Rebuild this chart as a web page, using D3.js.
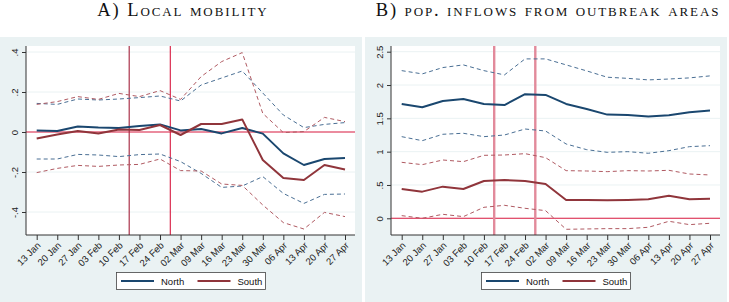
<!DOCTYPE html>
<html>
<head>
<meta charset="utf-8">
<script src="https://cdn.jsdelivr.net/npm/d3@7"></script>
<style>
  body { margin: 0; background: #fff; }
  svg { display: block; }
  .ttl { font-family: "Liberation Serif", "DejaVu Serif", serif; font-variant: small-caps; font-size: 18.5px; letter-spacing: 1.9px; fill: #111; }
  .tick text { font-family: "Liberation Sans", Arial, sans-serif; font-size: 9.5px; fill: #222; }
  .lg { font-family: "Liberation Sans", Arial, sans-serif; font-size: 9.5px; fill: #111; }
</style>
</head>
<body>
<svg id="chart" width="729" height="302"></svg>
<script>

// week labels shared by both panels
var weeks = ['13 Jan','20 Jan','27 Jan','03 Feb','10 Feb','17 Feb','24 Feb','02 Mar',
             '09 Mar','16 Mar','23 Mar','30 Mar','06 Apr','13 Apr','20 Apr','27 Apr'];

// A) local mobility
var mobNorth   = [0.007,0.005,0.027,0.022,0.02,0.03,0.038,0.008,0.015,-0.007,0.02,-0.008,-0.107,-0.165,-0.135,-0.13];
var mobNorthHi = [0.143,0.138,0.165,0.16,0.165,0.172,0.18,0.155,0.235,0.27,0.305,0.195,0.085,0.022,0.038,0.047];
var mobNorthLo = [-0.135,-0.135,-0.112,-0.115,-0.123,-0.113,-0.11,-0.148,-0.207,-0.277,-0.27,-0.223,-0.307,-0.357,-0.312,-0.31];
var mobSouth   = [-0.032,-0.013,0.005,-0.007,0.013,0.01,0.035,-0.015,0.04,0.04,0.063,-0.14,-0.23,-0.24,-0.165,-0.187];
var mobSouthHi = [0.138,0.152,0.177,0.163,0.193,0.177,0.207,0.163,0.277,0.352,0.397,0.093,-0.003,0.002,0.073,0.052];
var mobSouthLo = [-0.203,-0.182,-0.167,-0.172,-0.165,-0.162,-0.135,-0.193,-0.195,-0.26,-0.267,-0.365,-0.453,-0.485,-0.402,-0.423];
var mobTicks = [-0.4,-0.2,0,0.2,0.4];
var mobTickLabels = ['-.4','-.2','0','.2','.4'];

// B) pop. inflows from outbreak areas
var infNorth   = [1.716,1.666,1.761,1.791,1.716,1.70,1.862,1.851,1.716,1.641,1.556,1.551,1.526,1.546,1.591,1.616];
var infNorthHi = [2.216,2.167,2.262,2.302,2.216,2.152,2.392,2.392,2.302,2.212,2.117,2.10,2.077,2.09,2.107,2.137];
var infNorthLo = [1.225,1.165,1.261,1.276,1.225,1.25,1.34,1.31,1.115,1.03,0.99,1.0,0.976,1.015,1.075,1.09];
var infSouth   = [0.44,0.40,0.475,0.44,0.56,0.575,0.56,0.515,0.275,0.275,0.27,0.275,0.285,0.34,0.285,0.295];
var infSouthHi = [0.84,0.805,0.875,0.85,0.945,0.95,0.97,0.91,0.715,0.71,0.70,0.715,0.71,0.72,0.665,0.65];
var infSouthLo = [0.04,0.0,0.06,0.025,0.165,0.195,0.15,0.115,-0.165,-0.16,-0.155,-0.155,-0.135,-0.045,-0.095,-0.075];
var infTicks = [0,0.5,1,1.5,2,2.5];
var infTickLabels = ['0','.5','1','1.5','2','2.5'];

// event markers sit half-way between weeks (index units)
var events = [4.5, 6.5];

var navy = '#1a476f', maroon = '#90353b', bg = '#eaf2f3';
var svg = d3.select('#chart');

function panel(ox, title, tks, tkLabels, yDom, yRange, north, nHi, nLo, south, sHi, sLo, evColors, evWidth){

  var g = svg.append('g').attr('transform', 'translate(' + ox + ',0)');

  g.append('rect').attr('x', 0).attr('y', 37).attr('width', 362).attr('height', 265).attr('fill', bg);
  g.append('rect').attr('x', 26).attr('y', 46).attr('width', 329).attr('height', 189).attr('fill', '#fff');

  g.append('text').attr('class', 'ttl').attr('x', 183).attr('y', 15.5)
    .attr('text-anchor', 'middle').text(title);

  var x = d3.scalePoint().domain(weeks).range([36.7, 345]);
  var xi = d3.scaleLinear().domain([0, weeks.length - 1]).range([36.7, 345]);
  var y = d3.scaleLinear().domain(yDom).range(yRange);

  // grid
  g.selectAll('line.grid').data(tks.filter(function(t){ return t != 0; }))
    .join('line').attr('class', 'grid')
    .attr('x1', 26).attr('x2', 355)
    .attr('y1', function(d){ return y(d); }).attr('y2', function(d){ return y(d); })
    .attr('stroke', bg).attr('stroke-width', 1);

  // zero line
  g.append('line').attr('x1', 26).attr('x2', 355).attr('y1', y(0)).attr('y2', y(0))
    .attr('stroke', '#d7193f').attr('stroke-width', 1.1);

  // event lines
  g.selectAll('line.ev').data(events).join('line').attr('class', 'ev')
    .attr('x1', function(d){ return xi(d); }).attr('x2', function(d){ return xi(d); })
    .attr('y1', 46).attr('y2', 235)
    .attr('stroke', function(d, i){ return evColors[i]; }).attr('stroke-width', evWidth);

  var line = d3.line().x(function(d, i){ return x(weeks[i]); }).y(function(d){ return y(d); });

  function path(data, color, w, dash){
    g.append('path').datum(data).attr('d', line).attr('fill', 'none')
      .attr('stroke', color).attr('stroke-width', w)
      .attr('stroke-dasharray', dash ? '4,3' : null)
      .attr('stroke-linejoin', 'round');
  }
  path(nHi, '#4a6f94', 1, true);
  path(nLo, '#4a6f94', 1, true);
  path(sHi, '#b05a62', 1, true);
  path(sLo, '#b05a62', 1, true);
  path(north, navy, 2);
  path(south, maroon, 2);

  // axes
  var yAx = g.append('g').attr('transform', 'translate(26,0)')
    .call(d3.axisLeft(y).tickValues(tks).tickSize(4)
      .tickFormat(function(d, i){ return tkLabels[i]; }));
  yAx.select('.domain').attr('d', 'M0,46V235').attr('stroke', '#333');
  yAx.selectAll('.tick line').attr('stroke', '#333');
  yAx.selectAll('.tick text')
    .attr('text-anchor', 'middle').attr('dy', 0).attr('x', 0).attr('y', 0)
    .attr('transform', 'translate(-8,0) rotate(-90)');

  var xAx = g.append('g').attr('transform', 'translate(0,235)')
    .call(d3.axisBottom(x).tickSize(5));
  xAx.select('.domain').attr('d', 'M26,0H355').attr('stroke', '#333');
  xAx.selectAll('.tick line').attr('stroke', '#333');
  xAx.selectAll('.tick text')
    .attr('y', 0).attr('dy', 0)
    .attr('text-anchor', 'end')
    .attr('transform', 'translate(4,11) rotate(-45)');

  // legend
  var lg = g.append('g');
  lg.append('rect').attr('x', 116.5).attr('y', 272.5).attr('width', 149).attr('height', 17)
    .attr('fill', '#fff').attr('stroke', '#444').attr('stroke-width', 0.8);
  var items = [{name: 'North', c: navy, x: 121}, {name: 'South', c: maroon, x: 197.5}];
  items.forEach(function(it){
    lg.append('line').attr('x1', it.x).attr('x2', it.x + 33).attr('y1', 281).attr('y2', 281)
      .attr('stroke', it.c).attr('stroke-width', 2);
    lg.append('text').attr('class', 'lg').attr('x', it.x + 40).attr('y', 284.5).text(it.name);
  });
}

function init(){
  panel(0, 'A) Local mobility', mobTicks, mobTickLabels, [-0.4, 0.4], [212, 52],
        mobNorth, mobNorthHi, mobNorthLo, mobSouth, mobSouthHi, mobSouthLo,
        ['#a3213b', '#d7193f'], 1.1);
  panel(365, 'B) pop. inflows from outbreak areas', infTicks, infTickLabels, [0, 2.5], [218.3, 51.7],
        infNorth, infNorthHi, infNorthLo, infSouth, infSouthHi, infSouthLo,
        ['#e28a9b', '#e28a9b'], 2.4);
}

init();
</script>
</body>
</html>
